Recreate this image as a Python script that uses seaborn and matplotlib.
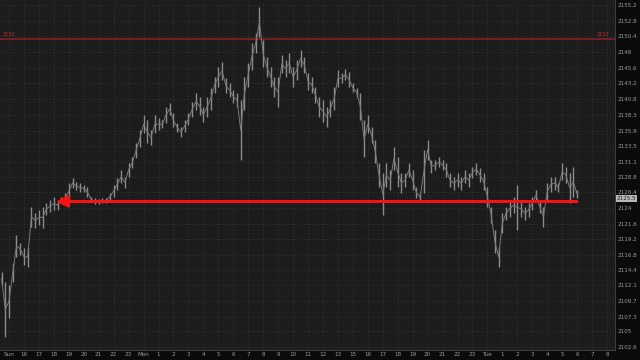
import numpy as np
import matplotlib
matplotlib.use("Agg")
import matplotlib.pyplot as plt
import seaborn as sns
import pandas as pd

# ---- data -------------------------------------------------------------
hour_labels = ["Sun", "16", "17", "18", "19", "20", "21", "22", "23",
               "Mon", "1", "2", "3", "4", "5", "6", "7", "8", "9", "10", "11", "12", "13",
               "15", "16", "17", "18", "19", "20", "21", "22", "23",
               "Tue", "1", "2", "3", "4", "5", "6", "7", "8"]

price_ticks = [2155.2, 2152.8, 2150.4, 2148, 2145.6, 2143.2, 2140.8, 2138.3, 2135.9,
               2133.5, 2131.1, 2128.8, 2126.4, 2124, 2121.6, 2119.2, 2116.8, 2114.4,
               2112.1, 2109.7, 2107.3, 2105, 2102.6]
price_tick_labels = ["2155.2", "2152.8", "2150.4", "2148", "2145.6", "2143.2", "2140.8",
                     "2138.3", "2135.9", "2133.5", "2131.1", "2128.8", "2126.4", "2124",
                     "2121.6", "2119.2", "2116.8", "2114.4", "2112.1", "2109.7", "2107.3",
                     "2105", "2102.6"]

# 15-minute bars, starting half an hour before the "Sun" slot
bar_highs = [2114.2, 2112.6, 2112.2, 2115.5, 2119.8, 2118.6, 2117.8, 2118.0, 2124.2, 2123.2,
             2123.7, 2124.2, 2124.8, 2125.2, 2125.7, 2125.2, 2125.7, 2126.3, 2127.8, 2128.6,
             2128.0, 2127.8, 2127.5, 2127.2, 2125.7, 2125.5, 2125.4, 2125.5, 2125.5, 2126.3,
             2127.5, 2128.6, 2129.8, 2128.8, 2130.9, 2131.8, 2134.0, 2136.0, 2138.3, 2137.5,
             2136.0, 2138.3, 2137.8, 2137.5, 2139.5, 2140.2, 2138.6, 2137.1, 2136.5, 2137.5,
             2138.6, 2140.3, 2141.7, 2141.1, 2139.5, 2141.1, 2142.5, 2144.2, 2145.7, 2146.5,
             2144.0, 2143.2, 2142.2, 2141.7, 2140.6, 2144.2, 2146.3, 2149.4, 2150.9, 2154.9,
             2149.8, 2147.2, 2145.7, 2144.2, 2144.2, 2147.5, 2146.8, 2147.8, 2145.7, 2146.8,
             2148.3, 2147.2, 2144.8, 2144.2, 2142.6, 2141.1, 2140.6, 2139.5, 2140.6, 2142.6,
             2145.2, 2144.8, 2145.4, 2144.9, 2143.2, 2142.5, 2141.7, 2137.5, 2138.3, 2136.5,
             2134.5, 2130.9, 2129.4, 2130.9, 2129.8, 2133.4, 2131.8, 2129.4, 2129.4, 2130.9,
             2129.8, 2127.2, 2126.5, 2132.9, 2134.5, 2131.4, 2131.4, 2131.8, 2131.4, 2130.9,
             2129.4, 2128.8, 2129.4, 2128.8, 2129.8, 2129.4, 2130.3, 2130.9, 2130.2, 2129.4,
             2127.2, 2124.2, 2120.6, 2118.0, 2123.2, 2124.2, 2125.2, 2125.7, 2127.5, 2125.2,
             2124.2, 2124.8, 2125.7, 2126.8, 2125.2, 2124.2, 2127.8, 2128.8, 2128.8, 2127.8,
             2130.9, 2130.3, 2129.4, 2130.3, 2126.8]
bar_lows = [2112.2, 2104.2, 2107.1, 2112.6, 2116.5, 2116.8, 2115.2, 2114.9, 2121.1, 2120.9,
            2121.4, 2120.9, 2122.9, 2123.4, 2123.7, 2123.7, 2124.8, 2124.9, 2125.2, 2127.1,
            2126.8, 2126.5, 2126.5, 2125.7, 2124.9, 2124.6, 2124.6, 2124.8, 2124.8, 2125.2,
            2125.7, 2126.8, 2127.8, 2127.1, 2128.8, 2130.2, 2131.7, 2133.4, 2135.5, 2134.0,
            2133.7, 2135.5, 2136.0, 2136.3, 2137.1, 2138.3, 2136.5, 2135.7, 2134.9, 2135.7,
            2136.8, 2138.0, 2139.1, 2138.3, 2137.2, 2138.0, 2139.1, 2141.7, 2142.6, 2143.7,
            2141.7, 2141.1, 2140.2, 2139.5, 2131.4, 2139.1, 2142.6, 2145.2, 2147.8, 2150.3,
            2145.7, 2144.2, 2142.6, 2141.1, 2139.5, 2144.8, 2144.2, 2144.8, 2142.6, 2143.7,
            2145.7, 2144.8, 2142.2, 2141.7, 2140.2, 2138.0, 2137.2, 2136.5, 2138.0, 2139.1,
            2142.6, 2143.2, 2143.7, 2142.6, 2141.8, 2141.1, 2137.5, 2131.8, 2135.5, 2134.0,
            2130.9, 2127.2, 2122.9, 2127.2, 2126.8, 2129.8, 2127.2, 2126.3, 2127.2, 2128.8,
            2126.8, 2125.5, 2124.9, 2126.3, 2131.4, 2129.4, 2129.8, 2130.3, 2129.8, 2128.8,
            2127.2, 2126.8, 2127.2, 2126.8, 2127.8, 2127.2, 2128.6, 2129.1, 2128.0, 2126.8,
            2124.2, 2121.7, 2117.1, 2114.9, 2120.2, 2122.2, 2122.6, 2123.2, 2120.6, 2122.6,
            2122.2, 2122.6, 2123.7, 2125.2, 2123.2, 2121.1, 2125.2, 2126.5, 2126.8, 2126.5,
            2128.3, 2127.8, 2124.8, 2125.7, 2125.5]

level_line = 2150.0
support_level = 2125.0
last_price = 2125.5
arrow_start_slot = 3.15
arrow_end_slot = 38.0

# ---- build frame --------------------------------------------------------
slots = -0.5 + 0.25 * np.arange(len(bar_highs))
df = pd.DataFrame({"slot": slots, "high": bar_highs, "low": bar_lows})
df["mid"] = (df["high"] + df["low"]) / 2

# ---- style --------------------------------------------------------------
sns.set_theme(style="dark")
plt.rcParams["font.family"] = ["DejaVu Sans"]

fig = plt.figure(figsize=(6.4, 3.6), dpi=100, facecolor="#0b0b0b")
ax = fig.add_axes([0, 10 / 360, 615 / 640, 350 / 360])
ax.set_facecolor("#1c1c1c")

bar_col = "#8c8c8c"
ax.vlines(df["slot"], df["low"], df["high"], color=bar_col, lw=1.0, zorder=3)
sns.lineplot(data=df, x="slot", y="mid", ax=ax, color="#7a7a7a", lw=0.7, zorder=3,
             estimator=None, legend=False)

# horizontal 2150 level
ax.axhline(level_line, color="#8a2020", lw=1.2, zorder=2)
ax.text(-0.45, level_line + 0.35, "2150", color="#c03030", fontsize=3.6, va="bottom", ha="left")
ax.text(39.3, level_line + 0.35, "2150", color="#c03030", fontsize=3.6, va="bottom", ha="left")

# red arrow at support level
ax.annotate("", xy=(arrow_start_slot, support_level), xytext=(arrow_end_slot, support_level),
            arrowprops=dict(arrowstyle="-|>,head_length=0.55,head_width=0.28",
                            color="#ff1010", lw=2.2, shrinkA=0, shrinkB=0),
            zorder=5)

# axes ranges and ticks
ax.set_xlim(-0.602, 40.535)
ax.set_ylim(2102.15, 2156.0)
ax.set_xticks(np.arange(len(hour_labels)))
ax.set_xticklabels(hour_labels)
ax.yaxis.tick_right()
ax.set_yticks(price_ticks)
ax.set_yticklabels(price_tick_labels)
ax.tick_params(axis="x", length=0, pad=1.5, labelsize=4.1, colors="#9a9a9a")
ax.tick_params(axis="y", length=0, pad=2, labelsize=4.1, colors="#9a9a9a")
ax.grid(True, color="#3a3a3a", lw=0.6, ls=(0, (1, 2.5)))
ax.set_xlabel("")
ax.set_ylabel("")
for s in ax.spines.values():
    s.set_visible(False)
ax.spines["right"].set_visible(True)
ax.spines["right"].set_color("#4a4a4a")
ax.spines["right"].set_linewidth(0.6)
ax.spines["bottom"].set_visible(True)
ax.spines["bottom"].set_color("#4a4a4a")
ax.spines["bottom"].set_linewidth(0.6)

# last price tag on the right axis
ax.text(40.535 + 0.12, last_price, f"{last_price:.1f}", fontsize=4.1, color="#202020",
        va="center", ha="left", clip_on=False,
        bbox=dict(boxstyle="square,pad=0.15", fc="#b8b8b8", ec="none"), zorder=6)

fig.savefig("out.png", dpi=100, facecolor=fig.get_facecolor())
